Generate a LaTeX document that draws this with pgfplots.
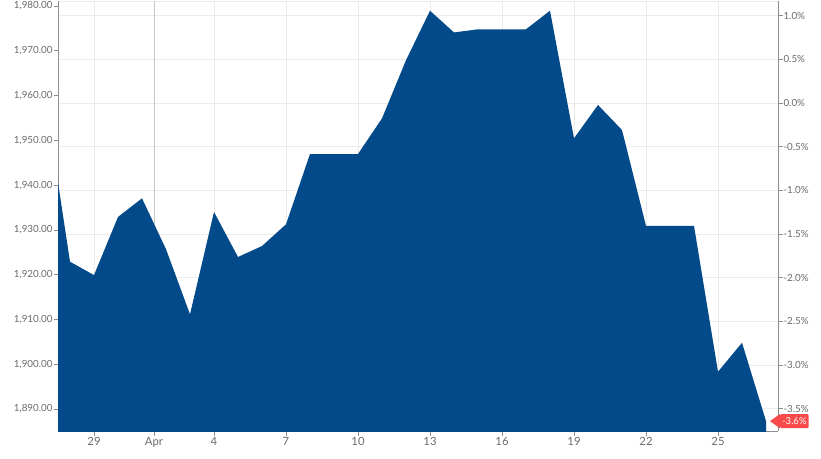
\documentclass[border=0pt]{standalone}
\usepackage{fontspec}
\setmainfont{Lato}
\usepackage{pgfplots}
\pgfplotsset{compat=1.18}
\definecolor{areablue}{HTML}{034A8A}
\definecolor{ticktext}{HTML}{6A6A6A}
\definecolor{axisgray}{HTML}{8C8C8C}
\definecolor{gridgray}{HTML}{EBEBEB}
\definecolor{aprgray}{HTML}{C8C8C8}
\definecolor{tagred}{HTML}{F74A4A}
\begin{document}
\begin{tikzpicture}
% right axis (percent) with horizontal grid, drawn first so the area covers it
\begin{axis}[
  at={(58pt,27pt)}, anchor=south west,
  scale only axis, width=720pt, height=430pt,
  xmin=-1.5, xmax=28.5, ymin=-3.753, ymax=1.167,
  axis x line=none, axis y line*=right,
  axis line style={draw=axisgray, line width=0.8pt},
  ytick={-3.5,-3,-2.5,-2,-1.5,-1,-0.5,0,0.5,1},
  ymajorgrids, major grid style={draw=gridgray, line width=0.8pt},
  tick align=outside, major tick length=4.5pt,
  tick style={draw=axisgray, line width=0.8pt},
  yticklabel={\pgfmathprintnumber[fixed,fixed zerofill,precision=1,assume math mode=true]{\tick}\%},
  yticklabel style={font=\fontsize{9.8}{11}\selectfont, text=ticktext, inner sep=0.8pt},
  clip=false,
]
\draw[gridgray, line width=0.8pt] (rel axis cs:0,1) -- (rel axis cs:1,1);
\node[fill=tagred, text=white, font=\fontsize{9.5}{10}\selectfont, inner xsep=2pt, inner ysep=0pt,
      minimum height=14pt, anchor=west, rounded corners=1.2pt, xshift=2pt] (t) at (axis cs:28.5,-3.64) {-3.6\%};
\fill[tagred] ([yshift=-0.01pt]t.north west) -- ([xshift=-10pt]t.west) -- ([yshift=0.01pt]t.south west) -- cycle;
\end{axis}
% left axis (price) with the area
\begin{axis}[
  at={(58pt,27pt)}, anchor=south west,
  scale only axis, width=720pt, height=430pt,
  xmin=-1.5, xmax=28.5, ymin=1885.09, ymax=1981.12,
  axis x line*=bottom, axis y line*=left,
  axis line style={draw=axisgray, line width=0.8pt},
  xtick={0,5,8,11,14,17,20,23,26},
  xticklabels={29,4,7,10,13,16,19,22,25},
  extra x ticks={2.5}, extra x tick labels={Apr},
  extra x tick style={major grid style={draw=aprgray, line width=0.8pt}},
  xmajorgrids, major grid style={draw=gridgray, line width=0.8pt},
  ytick={1890,1900,1910,1920,1930,1940,1950,1960,1970,1980},
  tick align=outside, major tick length=4.5pt,
  tick style={draw=axisgray, line width=0.8pt},
  yticklabel={\pgfmathprintnumber[fixed,fixed zerofill,precision=2,1000 sep={,},assume math mode=true]{\tick}},
  yticklabel style={font=\fontsize{9.8}{11}\selectfont, text=ticktext, inner sep=0.8pt},
  xticklabel style={font=\fontsize{11.3}{13}\selectfont, text=ticktext, inner sep=2pt},
  axis on top=false,
]
\addplot[fill=areablue, draw=none] coordinates {
(-1.5,1880) (-1.5,1940.6) (-1,1922.9) (0,1919.9) (1,1932.9) (2,1937.05) (3,1925.7)
(4,1911.15) (5,1934.0) (6,1923.95) (7,1926.4) (8,1931.25) (9,1946.95) (10,1946.95)
(11,1946.95) (12,1954.9) (13,1967.9) (14,1978.95) (15,1974.1) (16,1974.8) (17,1974.8)
(18,1974.8) (19,1978.95) (20,1950.45) (21,1957.9) (22,1952.3) (23,1930.9) (24,1930.9)
(25,1930.9) (26,1898.33) (27,1904.8) (28,1887.3) (28,1880)
} -- cycle;
\end{axis}
\pgfresetboundingbox
\useasboundingbox (0,0) rectangle (821pt,458pt);
\end{tikzpicture}
\end{document}
